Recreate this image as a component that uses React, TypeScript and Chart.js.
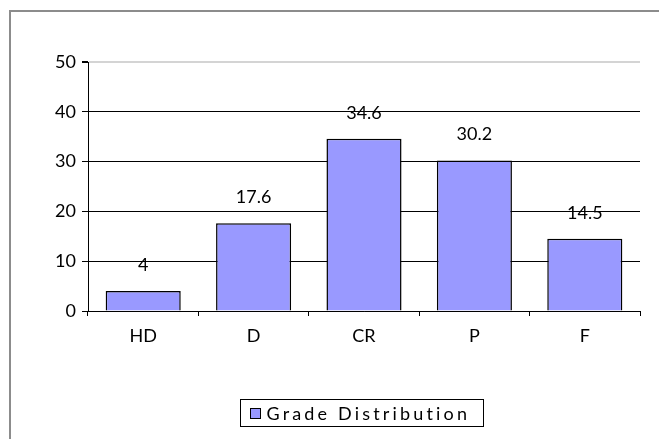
import React, { useEffect, useRef } from "react";
import { Chart, registerables } from "chart.js";

Chart.register(...registerables);

const categories = ["HD", "D", "CR", "P", "F"];
const values = [4, 17.6, 34.6, 30.2, 14.5];
const seriesLabel = "Grade Distribution";
const yMin = 0;
const yMax = 50;
const yStep = 10;

const FONT = "Lato, 'Liberation Sans', sans-serif";
const FONT_SIZE = 18;
const BAR_COLOR = "#9999FF";

export default function App() {
  const ref = useRef<HTMLCanvasElement>(null);

  useEffect(() => {
    if (!ref.current) return;

    const frame = {
      id: "frame",
      beforeDraw(chart: any) {
        const ctx = chart.ctx;
        ctx.save();
        ctx.fillStyle = "#fff";
        ctx.fillRect(0, 0, chart.width, chart.height);
        ctx.strokeStyle = "#8c8c8c";
        ctx.lineWidth = 2;
        ctx.beginPath();
        ctx.moveTo(10, chart.height + 2);
        ctx.lineTo(10, 11);
        ctx.lineTo(chart.width + 2, 11);
        ctx.stroke();
        ctx.restore();
      },
    };

    const valueLabels = {
      id: "valueLabels",
      afterDatasetsDraw(chart: any) {
        const ctx = chart.ctx;
        const meta = chart.getDatasetMeta(0);
        const data = chart.data.datasets[0].data as number[];
        ctx.save();
        ctx.font = `${FONT_SIZE}px ${FONT}`;
        ctx.fillStyle = "#000";
        ctx.textAlign = "center";
        ctx.textBaseline = "middle";
        meta.data.forEach((el: any, i: number) => {
          ctx.fillText(String(data[i]), el.x, el.y - 26);
        });
        ctx.restore();
      },
    };

    const legendBox = {
      id: "legendBox",
      afterDraw(chart: any) {
        const ctx = chart.ctx;
        const area = chart.chartArea;
        const ds = chart.data.datasets[0];
        const boxW = 243;
        const boxH = 27;
        const cx = (area.left + area.right) / 2 - 2.5;
        const left = Math.round(cx - boxW / 2) + 0.5;
        const top = Math.round(area.bottom + 88) + 0.5;
        ctx.save();
        ctx.strokeStyle = "#000";
        ctx.lineWidth = 1;
        ctx.strokeRect(left, top, boxW, boxH);
        ctx.fillStyle = ds.backgroundColor;
        ctx.fillRect(left + 10, top + 9, 10, 10);
        ctx.strokeRect(left + 10, top + 9, 10, 10);
        ctx.fillStyle = "#000";
        ctx.font = `${FONT_SIZE}px ${FONT}`;
        ctx.textAlign = "left";
        ctx.textBaseline = "middle";
        const text = ds.label as string;
        const targetW = 204;
        const natural = ctx.measureText(text).width;
        const spacing = Math.max(0, (targetW - natural) / text.length);
        (ctx as any).letterSpacing = `${spacing}px`;
        ctx.fillText(text, left + 26, top + boxH / 2 + 1);
        ctx.restore();
      },
    };

    const chart = new Chart(ref.current, {
      type: "bar",
      data: {
        labels: categories,
        datasets: [
          {
            label: seriesLabel,
            data: values,
            backgroundColor: BAR_COLOR,
            borderColor: "#000",
            borderWidth: 1.5,
            barPercentage: 0.68,
            categoryPercentage: 1,
          },
        ],
      },
      options: {
        responsive: false,
        animation: false,
        layout: { padding: { left: 0, right: 19, top: 62, bottom: 88 } },
        plugins: {
          legend: { display: false },
          tooltip: { enabled: false },
        },
        scales: {
          x: {
            grid: {
              display: true,
              drawOnChartArea: false,
              drawTicks: true,
              tickLength: 5,
              tickColor: "#000",
              offset: true,
            },
            border: { display: true, color: "#000", width: 1 },
            ticks: {
              font: { family: FONT, size: FONT_SIZE },
              color: "#000",
              padding: 9,
            },
            afterFit(scale: any) {
              scale.height = 40;
            },
          },
          y: {
            min: yMin,
            max: yMax,
            ticks: {
              stepSize: yStep,
              font: { family: FONT, size: FONT_SIZE },
              color: "#000",
              padding: 6,
            },
            grid: {
              color: (c: any) => (c.tick && c.tick.value === yMax ? "#d4d4d4" : "#000"),
              lineWidth: (c: any) => (c.tick && c.tick.value === yMax ? 2 : 1),
              tickColor: "#000",
              tickLength: 6,
              drawTicks: true,
            },
            border: { display: true, color: "#000", width: 1 },
            afterFit(scale: any) {
              scale.width = 88;
            },
          },
        },
      },
      plugins: [frame, valueLabels, legendBox],
    });

    return () => chart.destroy();
  }, []);

  return (
    <canvas
      ref={ref}
      width={659}
      height={439}
      style={{ position: "fixed", left: 0, top: 0, display: "block" }}
    />
  );
}
